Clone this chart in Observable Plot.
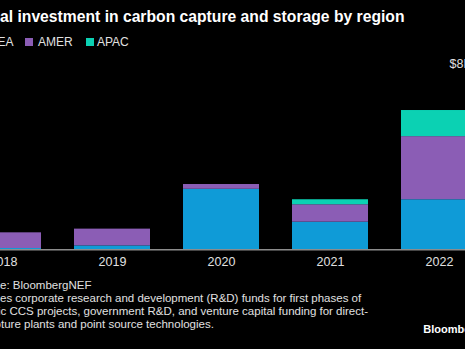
<!DOCTYPE html>
<html>
<head>
<meta charset="utf-8">
<script src="https://cdn.jsdelivr.net/npm/d3@7"></script>
<script src="https://cdn.jsdelivr.net/npm/@observablehq/plot@0.6"></script>
<style>
  html, body { margin: 0; padding: 0; background: #000; }
  body { width: 465px; height: 349px; overflow: hidden; position: relative; font-family: "Liberation Sans", Arial, sans-serif; }
  .t { position: absolute; white-space: nowrap; color: #e8e8e8; }
  #chart { position: absolute; left: -60px; top: 50px; width: 600px; height: 230px; }
  #chart svg { max-width: none !important; width: 600px; height: 230px; display: block; }
  .sq { position: absolute; width: 8px; height: 8px; }
</style>
</head>
<body>
<div id="chart"></div>
<script>
// ---- data ----
const years = ["2018", "2019", "2020", "2021", "2022"];
const regions = ["EMEA", "AMER", "APAC"];
const emea = [0.06, 0.18, 2.78, 1.27, 2.30];
const amer = [0.72, 0.77, 0.22, 0.80, 2.90];
const apac = [0.00, 0.00, 0.00, 0.23, 1.20];
const colors = ["#0f9bd7", "#8b5db5", "#0bd1b3"];
const titleText = "Global investment in carbon capture and storage by region";
const axisTopLabel = "$8B";
const sourceLines = [
  "Source: BloombergNEF",
  "Includes corporate research and development (R&D) funds for first phases of",
  "specific CCS projects, government R&D, and venture capital funding for direct-",
  "air capture plants and point source technologies."
];
const logoText = "Bloomberg";

// ---- table ----
const series = [emea, amer, apac];
const rows = [];
years.forEach((y, i) => regions.forEach((r, j) => rows.push({year: y, region: r, value: series[j][i]})));

// ---- measuring helper ----
const ctx = document.createElement("canvas").getContext("2d");
function w(text, size, weight) {
  ctx.font = `${weight || "normal"} ${size}px "Liberation Sans"`;
  return ctx.measureText(text).width;
}
function addText(text, size, weight, baseline, left, color) {
  const d = document.createElement("div");
  d.className = "t";
  d.textContent = text;
  d.style.fontSize = size + "px";
  d.style.lineHeight = size + "px";
  d.style.fontWeight = weight || "normal";
  d.style.top = (baseline - 0.8465 * size) + "px";
  d.style.left = left + "px";
  if (color) d.style.color = color;
  document.body.appendChild(d);
  return d;
}

// title (cropped on the left like the reference)
addText(titleText, 15.7, "bold", 22.5, 0 - w("Glob", 15.7, "bold"), "#ffffff");

// legend
const legX = [null, 38, 97];
const sqX = [null, 24.5, 86];
legX[0] = 13.5 - w(regions[0], 12);
sqX[0] = legX[0] - 5.5 - 8;
regions.forEach((r, j) => {
  addText(r, 12, "normal", 46, legX[j], "#e0e0e0");
  const s = document.createElement("div");
  s.className = "sq";
  s.style.left = sqX[j] + "px";
  s.style.top = "37.5px";
  s.style.background = colors[j];
  document.body.appendChild(s);
});

// source / notes
const hidden = ["Sourc", "Includ", "specifi", "air cap"];
const targets = [0, 0, 0.5, 1];
sourceLines.forEach((line, i) => {
  addText(line, 11.5, "normal", 289.3 + i * 13.3, targets[i] - w(hidden[i], 11.5), "#e0e0e0");
});
addText(logoText, 11, "bold", 333.5, 423.3, "#ffffff");

// ---- chart ----
const plot = Plot.plot({
  width: 600,
  height: 230,
  marginLeft: 7.45,
  marginRight: 44.15,
  marginTop: 25.2,
  marginBottom: 30.7,
  style: {background: "transparent", color: "#e0e0e0", fontFamily: "Liberation Sans, Arial, sans-serif", fontSize: "12.5px", maxWidth: "none"},
  x: {domain: years, paddingInner: 0.3, paddingOuter: 0.15, label: null},
  y: {domain: [0, 8], label: null},
  color: {domain: regions, range: colors},
  marks: [
    Plot.barY(rows, {x: "year", y: "value", fill: "region", order: regions}),
    Plot.ruleY([0], {stroke: "#8c8c8c", strokeWidth: 1.5}),
    Plot.axisX({tickSize: 0, tickPadding: 7, fontSize: 12.5, label: null}),
    Plot.axisY({ticks: []}),
    Plot.text([8], {y: d => d, frameAnchor: "right", textAnchor: "start", dx: -46.8, dy: -12, text: () => axisTopLabel, fontSize: 12.5, fill: "#e0e0e0"})
  ]
});
document.getElementById("chart").appendChild(plot);
</script>
</body>
</html>
